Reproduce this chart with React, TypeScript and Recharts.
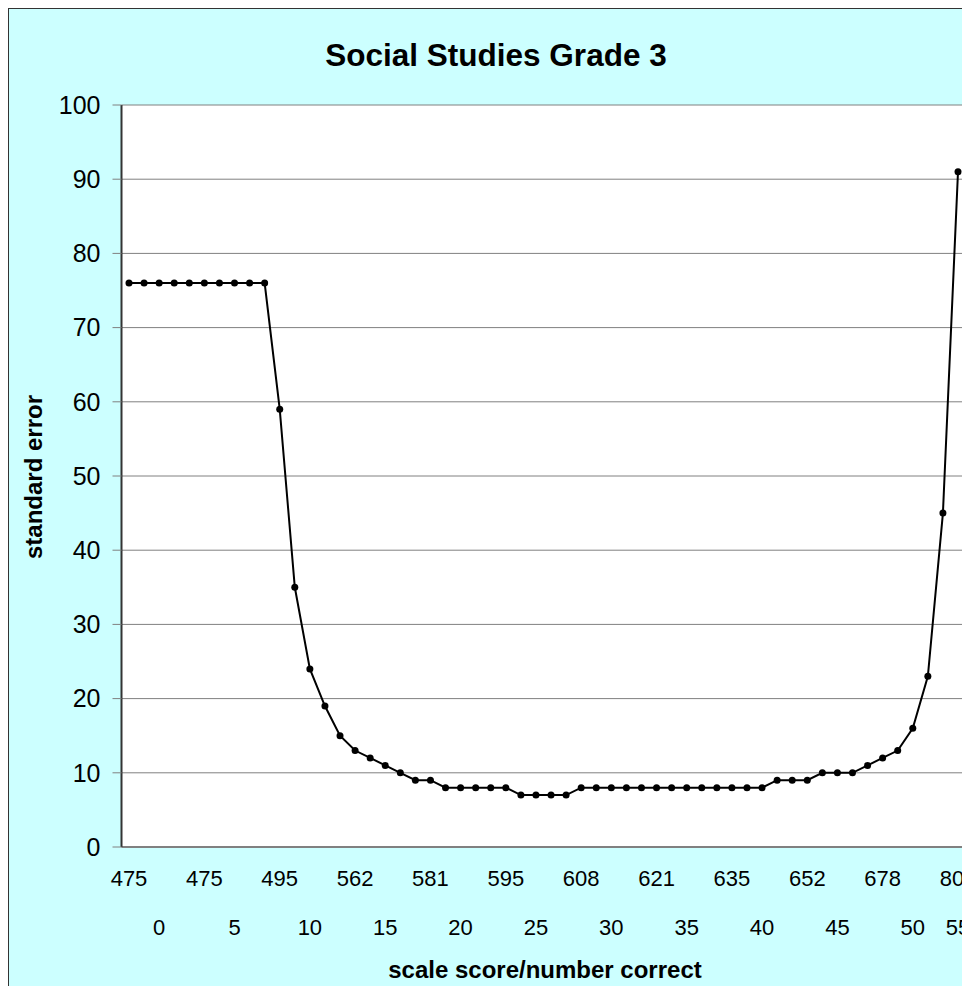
import React from 'react';
import { LineChart, Line, XAxis, YAxis, CartesianGrid } from 'recharts';

// category: number correct (0..55)
const numberCorrect = [
  0, 1, 2, 3, 4, 5, 6, 7, 8, 9, 10, 11, 12, 13, 14, 15, 16, 17, 18, 19,
  20, 21, 22, 23, 24, 25, 26, 27, 28, 29, 30, 31, 32, 33, 34, 35, 36, 37, 38, 39,
  40, 41, 42, 43, 44, 45, 46, 47, 48, 49, 50, 51, 52, 53, 54, 55,
];

// standard error for each number correct
const standardError = [
  76, 76, 76, 76, 76, 76, 76, 76, 76, 76,
  59, 35, 24, 19, 15, 13, 12, 11, 10, 9,
  9, 8, 8, 8, 8, 8, 7, 7, 7, 7,
  8, 8, 8, 8, 8, 8, 8, 8, 8, 8,
  8, 8, 8, 9, 9, 9, 10, 10, 10, 11,
  12, 13, 16, 23, 45, 91,
];

// first row of category labels: scale scores
const scaleScoreTickIdx = [0, 5, 10, 15, 20, 25, 30, 35, 40, 45, 50, 55];
const scaleScoreLabels = ['475', '475', '495', '562', '581', '595', '608', '621', '635', '652', '678', '800'];

// second row of category labels: number correct
const numberCorrectTickIdx = [2, 7, 12, 17, 22, 27, 32, 37, 42, 47, 52, 55];
const numberCorrectLabels = ['0', '5', '10', '15', '20', '25', '30', '35', '40', '45', '50', '55'];

const yTicks = [0, 10, 20, 30, 40, 50, 60, 70, 80, 90, 100];

const data = numberCorrect.map((n, i) => ({ n, se: standardError[i] }));

const allXTicks = Array.from(new Set([...scaleScoreTickIdx, ...numberCorrectTickIdx])).sort((a, b) => a - b);

const FONT = '"Liberation Sans", Arial, sans-serif';

const XTick = (props: any) => {
  const { x, y, payload } = props;
  const v = payload.value;
  const si = scaleScoreTickIdx.indexOf(v);
  const ni = numberCorrectTickIdx.indexOf(v);
  return (
    <g>
      {si >= 0 && (
        <text x={x} y={y} dy={39} textAnchor="middle" fontSize={22} fontFamily={FONT} fill="#000">
          {scaleScoreLabels[si]}
        </text>
      )}
      {ni >= 0 && (
        <text x={x} y={y} dy={88} textAnchor="middle" fontSize={22} fontFamily={FONT} fill="#000">
          {numberCorrectLabels[ni]}
        </text>
      )}
    </g>
  );
};

export default function App() {
  return (
    <div
      style={{
        position: 'relative',
        marginLeft: -1,
        marginTop: -1,
        marginBottom: -8,
        width: 963,
        height: 987,
        overflow: 'hidden',
        background: '#CCFFFF',
        boxShadow: 'inset 2px 2px 0 #333333',
        fontFamily: FONT,
      }}
    >
      <div
        style={{
          position: 'absolute',
          left: 0,
          top: 30,
          width: 978,
          textAlign: 'center',
          fontSize: 31.5,
          lineHeight: '36px',
          fontWeight: 'bold',
          color: '#000',
          whiteSpace: 'nowrap',
        }}
      >
        Social Studies Grade 3
      </div>
      <LineChart
        width={980}
        height={987}
        data={data}
        margin={{ top: 98, right: 21.5, bottom: 1, left: 14.5 }}
      >
        <CartesianGrid
          vertical={false}
          stroke="#808080"
          strokeWidth={1}
          fill="#FFFFFF"
          fillOpacity={1}
        />
        <XAxis
          dataKey="n"
          type="category"
          ticks={allXTicks}
          interval={0}
          padding={{ left: 7.5, right: 7.5 }}
          height={146}
          tickSize={0}
          tickMargin={0}
          tickLine={false}
          axisLine={{ stroke: '#808080', strokeWidth: 2 }}
          tick={<XTick />}
        />
        <YAxis
          type="number"
          domain={[0, 100]}
          ticks={yTicks}
          interval={0}
          width={100}
          tickSize={9}
          tickMargin={12}
          tickLine={{ stroke: '#808080', strokeWidth: 1 }}
          axisLine={{ stroke: '#333333', strokeWidth: 2 }}
          tick={{ fontSize: 25, fontFamily: FONT, fill: '#000' }}
        />
        <YAxis
          yAxisId="r"
          orientation="right"
          type="number"
          domain={[0, 100]}
          width={0}
          tick={false}
          tickLine={false}
          axisLine={{ stroke: '#808080', strokeWidth: 2 }}
        />
        <Line
          dataKey="se"
          stroke="#000"
          strokeWidth={2}
          dot={{ r: 3.5, fill: '#000', stroke: 'none' }}
          activeDot={false}
          isAnimationActive={false}
        />
      </LineChart>
      <div
        style={{
          position: 'absolute',
          left: -123,
          top: 454.5,
          width: 300,
          height: 30,
          lineHeight: '30px',
          textAlign: 'center',
          fontSize: 24,
          fontWeight: 'bold',
          color: '#000',
          transform: 'rotate(-90deg)',
          whiteSpace: 'nowrap',
        }}
      >
        standard error
      </div>
      <div
        style={{
          position: 'absolute',
          left: 238,
          top: 947.7,
          width: 600,
          height: 30,
          lineHeight: '30px',
          textAlign: 'center',
          fontSize: 24,
          fontWeight: 'bold',
          color: '#000',
          whiteSpace: 'nowrap',
        }}
      >
        scale score/number correct
      </div>
    </div>
  );
}
